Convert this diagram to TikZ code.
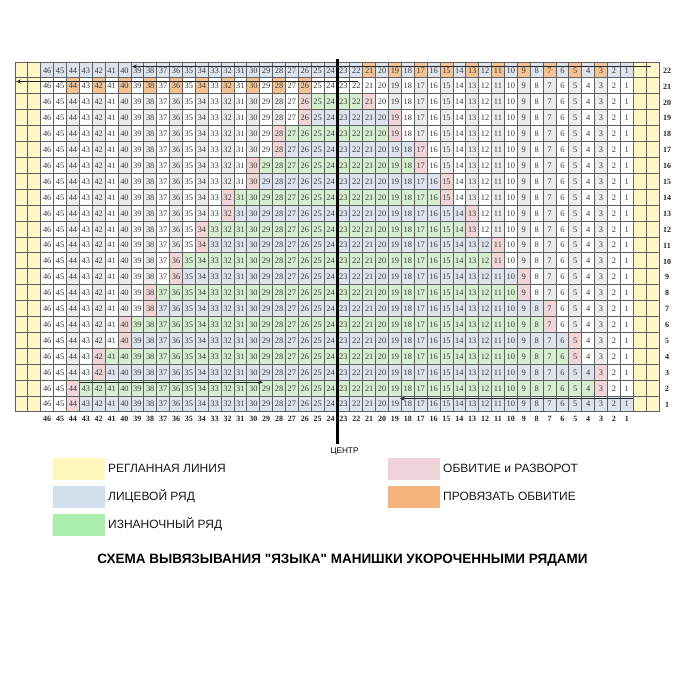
\documentclass[tikz,border=0pt]{standalone}
\usepackage{fontspec}
\setmainfont{Liberation Serif}
\newfontfamily\lsans{Liberation Sans}
\usetikzlibrary{arrows.meta}
\definecolor{cyel}{HTML}{FFF8C6}
\definecolor{cblue}{HTML}{DEE4EE}
\definecolor{cgreen}{HTML}{D6EFD0}
\definecolor{cpink}{HTML}{F0D6D8}
\definecolor{corange}{HTML}{F3C393}
\definecolor{cgray}{HTML}{ECECEC}
\definecolor{lyel}{HTML}{FFF6B9}
\definecolor{lblue}{HTML}{D3DEEC}
\definecolor{lgreen}{HTML}{ABEDAB}
\definecolor{lpink}{HTML}{EED4D8}
\definecolor{lorange}{HTML}{F5B47C}
\definecolor{gline}{HTML}{606060}
\definecolor{numc}{HTML}{3A3A3A}
\newcommand\fillcell[3]{\fill[#3] ({15+(48-#1)*12.88},{62+(22-#2)*15.9}) rectangle ++(12.88,15.9);}
\tikzset{
  gridline/.style={draw=gline,line width=0.8pt},
  cellnum/.style={inner sep=0pt,font=\fontsize{8.4}{9}\selectfont,text=numc},
  rowlab/.style={inner sep=0pt,font=\fontsize{8}{9}\selectfont\bfseries,text=black!85},
  flowarrow/.style={draw=black!85,line width=0.7pt,-{Stealth[length=5pt,width=4pt]}},
  legbox/.style={inner sep=0pt,minimum width=52pt,minimum height=21.5pt,anchor=north west},
  legtext/.style={inner sep=0pt,anchor=west,font=\lsans\fontsize{12}{13}\selectfont,text=black!90},
}
\begin{document}
\begin{tikzpicture}[x=1pt,y=-1pt]
\useasboundingbox (0,0) rectangle (690,690);
\fill[white] (0,0) rectangle (690,690);
% raglan columns
\foreach \r in {1,...,22} {\foreach \n in {-1,0,47,48} {\fillcell{\n}{\r}{cyel}}}
% row 1
\foreach \n in {1,...,43} {\fillcell{\n}{1}{cblue}}
\fillcell{44}{1}{cpink}
% odd rows 3..19
\foreach \m in {1,...,9} {
  \pgfmathtruncatemacro\rr{2*\m+1}
  \pgfmathtruncatemacro\aa{2*\m+2}
  \pgfmathtruncatemacro\bb{43-2*\m}
  \pgfmathtruncatemacro\pl{44-2*\m}
  \pgfmathtruncatemacro\pr{2*\m+1}
  \foreach \n in {\aa,...,\bb} {\fillcell{\n}{\rr}{cblue}}
  \fillcell{\pl}{\rr}{cpink}
  \fillcell{\pr}{\rr}{cpink}
}
% even rows 2..20
\foreach \m in {0,...,9} {
  \pgfmathtruncatemacro\rr{2*\m+2}
  \pgfmathtruncatemacro\aa{2*\m+4}
  \pgfmathtruncatemacro\bb{43-2*\m}
  \pgfmathtruncatemacro\pl{44-2*\m}
  \pgfmathtruncatemacro\pr{2*\m+3}
  \foreach \n in {\aa,...,\bb} {\fillcell{\n}{\rr}{cgreen}}
  \fillcell{\pl}{\rr}{cpink}
  \fillcell{\pr}{\rr}{cpink}
}
% wrapped stitch columns
\foreach \k in {0,...,8} {
  \pgfmathtruncatemacro\cl{44-2*\k}
  \pgfmathtruncatemacro\sl{2*\k+3}
  \foreach \r in {\sl,...,20} {\fillcell{\cl}{\r}{cgray}}
  \pgfmathtruncatemacro\cr{3+2*\k}
  \pgfmathtruncatemacro\sr{2*\k+4}
  \foreach \r in {\sr,...,21} {\fillcell{\cr}{\r}{cgray}}
}
% row 21 and 22
\foreach \n in {1,...,46} {\fillcell{\n}{22}{cblue}}
\foreach \k in {0,...,9} {
  \pgfmathtruncatemacro\cl{44-2*\k}
  \fillcell{\cl}{21}{corange}
  \pgfmathtruncatemacro\cr{3+2*\k}
  \fillcell{\cr}{22}{corange}
}
% grid
\foreach \i in {0,...,50} {\draw[gridline] ({15+\i*12.88},62) -- ({15+\i*12.88},411.8);}
\foreach \j in {0,...,22} {\draw[gridline] (15,{62+\j*15.9}) -- (659,{62+\j*15.9});}
% numbers
\foreach \r in {1,...,22} {
  \foreach \n in {1,...,46} {
    \node[cellnum] (c\r-\n) at ({15+(48-\n)*12.88+6.44},{62+(22-\r)*15.9+8.3}) {\n};
  }
  \node[rowlab] (row\r) at (667,{62+(22-\r)*15.9+8.6}) {\r};
}
\foreach \n in {1,...,46} {\node[rowlab] (col\n) at ({15+(48-\n)*12.88+6.44},418.5) {\n};}
% centre line
\coordinate (ctop) at (337.6,59);
\coordinate (cbot) at (337.6,444);
\draw[line width=2.3pt,black] (ctop) -- (cbot);
\node[inner sep=0pt,font=\lsans\fontsize{8.2}{9}\selectfont] (centr) at (344.5,451) {ЦЕНТР};
% direction arrows
\coordinate (a22s) at (651,66.5);
\coordinate (a22e) at (132,66.5);
\coordinate (a21s) at (358,81.5);
\coordinate (a21e) at (16,81.5);
\coordinate (a2s) at (80,382.3);
\coordinate (a2e) at (263,382.3);
\coordinate (a1s) at (633,398.6);
\coordinate (a1e) at (400,398.6);
\draw[flowarrow] (a22s) -- (a22e);
\draw[flowarrow] (a21s) -- (a21e);
\draw[flowarrow] (a2s) -- (a2e);
\draw[flowarrow] (a1s) -- (a1e);
% legend
\node[legbox,fill=lyel] (ly) at (53,458) {};
\node[legbox,fill=lblue] (lb) at (53,486) {};
\node[legbox,fill=lgreen] (lg) at (53,514) {};
\node[legbox,fill=lpink] (lp) at (388,458) {};
\node[legbox,fill=lorange] (lo) at (388,486) {};
\node[legtext] (tly) at (108,468.5) {РЕГЛАННАЯ ЛИНИЯ};
\node[legtext] (tlb) at (108,496.5) {ЛИЦЕВОЙ РЯД};
\node[legtext] (tlg) at (108,524) {ИЗНАНОЧНЫЙ РЯД};
\node[legtext] (tlp) at (443,468.5) {ОБВИТИЕ и РАЗВОРОТ};
\node[legtext] (tlo) at (443,496.5) {ПРОВЯЗАТЬ ОБВИТИЕ};
% title
\node[inner sep=0pt,font=\lsans\bfseries\fontsize{13.5}{14}\selectfont] (title) at (342.5,560.5) {СХЕМА ВЫВЯЗЫВАНИЯ "ЯЗЫКА" МАНИШКИ УКОРОЧЕННЫМИ РЯДАМИ};
\end{tikzpicture}
\end{document}
